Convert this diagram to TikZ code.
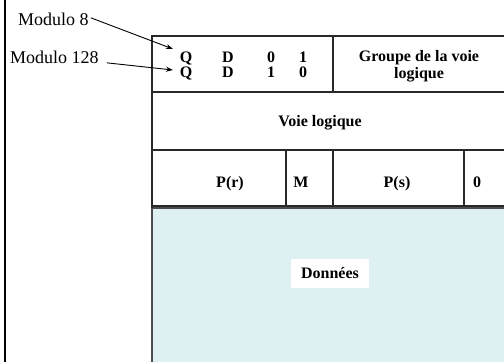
\documentclass[tikz,border=0pt]{standalone}
\usepackage{fontspec}
\setmainfont{Liberation Serif}
\usetikzlibrary{arrows.meta}
\definecolor{datafill}{RGB}{222,240,242}
\definecolor{gridcol}{RGB}{40,40,40}
\begin{document}
\begin{tikzpicture}[x=1pt,y=-1pt,
  lbl/.style={font=\fontsize{18}{21}\selectfont, inner sep=0pt, anchor=base west},
  cell/.style={font=\bfseries\fontsize{16}{16.5}\selectfont, inner sep=0pt},
  bcell/.style={cell, anchor=base},
  gridline/.style={line width=1.3pt, draw=gridcol},
  arr/.style={-{Stealth[length=7pt,width=5pt]}, line width=0.9pt}]
\useasboundingbox (0,0) rectangle (504,362);
% data area
\fill[datafill] (152,208) rectangle (504,362);
\draw[line width=2pt, draw=black!70] (152,362) -- (152,208) -- (504,208);
% left rule
\draw[line width=1.8pt] (5,0) -- (5,362);
% table grid
\draw[gridline] (504,36) -- (152,36) -- (152,208);
\draw[gridline] (152,92) -- (504,92);
\draw[gridline] (152,150) -- (504,150);
\draw[gridline] (152,206) -- (504,206);
\draw[gridline] (333,36) -- (333,92);
\draw[gridline] (286,150) -- (286,206);
\draw[gridline] (333,150) -- (333,206);
\draw[gridline] (464,150) -- (464,206);
% labels
\node[lbl] (m8) at (18,25) {Modulo 8};
\node[lbl] (m128) at (10,63) {Modulo 128};
\coordinate (t8) at (173,49);
\coordinate (t128) at (173,70);
\draw[arr] ([xshift=2pt,yshift=1pt]m8.east) -- (t8);
\draw[arr] ([xshift=8pt,yshift=-6pt]m128.east) -- (t128);
% first row
\node[bcell] (q1) at (186,62) {Q};
\node[bcell] (d1) at (228,62) {D};
\node[bcell] (a1) at (271,62) {0};
\node[bcell] (b1) at (303,62) {1};
\node[bcell] (q2) at (186,77.5) {Q};
\node[bcell] (d2) at (228,77.5) {D};
\node[bcell] (a2) at (271,77.5) {1};
\node[bcell] (b2) at (303,77.5) {0};
\node[cell, align=center] (grp) at (419,66) {Groupe de la voie\\logique};
\node[bcell] (voie) at (320,126.5) {Voie logique};
\node[bcell] (pr) at (230,187) {P(r)};
\node[bcell] (m) at (301,187) {M};
\node[bcell] (ps) at (397,187) {P(s)};
\node[bcell] (z) at (477,187) {0};
\node[cell, fill=white, minimum width=78pt, minimum height=29pt] (data) at (330,273.5) {Données};
\end{tikzpicture}
\end{document}
